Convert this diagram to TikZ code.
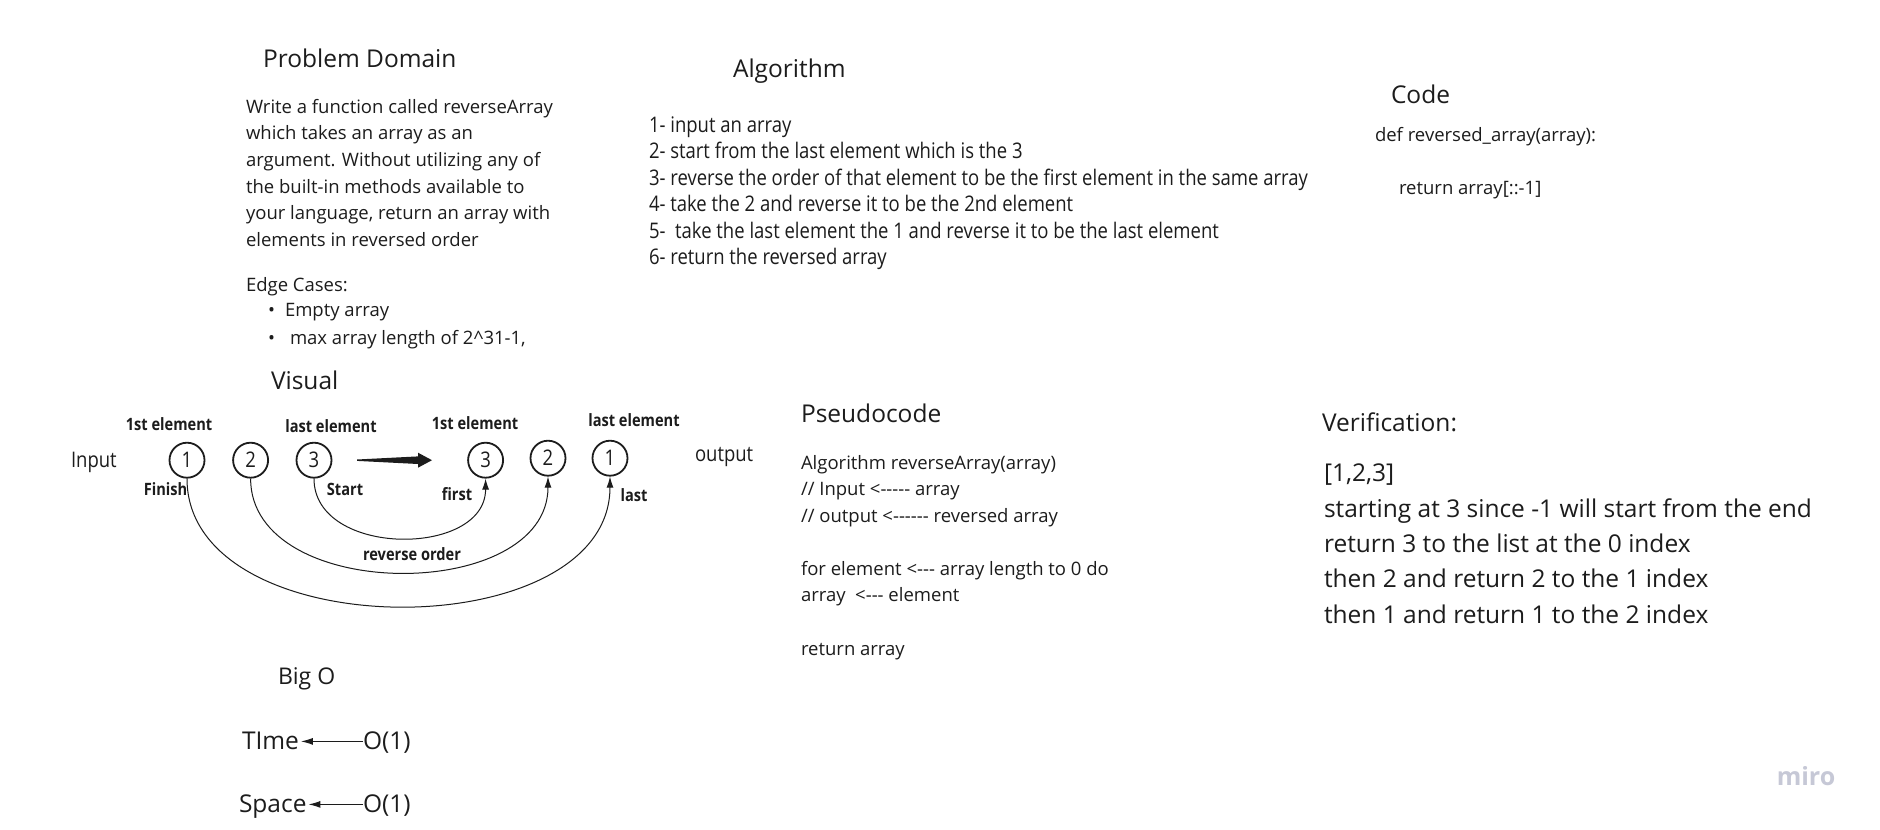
\documentclass[tikz,border=0pt]{standalone}
\usepackage{fontspec}
\setmainfont{Open Sans}
\newfontfamily\condfam[FakeStretch=0.86]{Open Sans}
\usetikzlibrary{arrows.meta}
\definecolor{txt}{RGB}{28,28,28}
\definecolor{miroc}{RGB}{198,200,214}
\newcommand{\ftitle}{\fontsize{24.5}{29}\selectfont}
\newcommand{\fbody}{\fontsize{18.5}{22}\selectfont}
\newcommand{\fcond}{\condfam\fontsize{21.5}{25}\selectfont}
\newcommand{\flab}{\condfam\bfseries\fontsize{17}{20}\selectfont}
\newcommand{\fbig}{\fontsize{24.5}{29}\selectfont}
\tikzset{
  t/.style={inner sep=0pt, outer sep=0pt, text=txt, anchor=base west},
  tc/.style={inner sep=0pt, outer sep=0pt, text=txt, anchor=base},
  title/.style={t, font=\ftitle},
  body/.style={t, font=\fbody},
  cond/.style={t, font=\fcond},
  big/.style={t, font=\fbig},
  lab/.style={tc, font=\flab},
  circ/.style={circle, draw=txt, line width=1.8pt, minimum size=35pt, inner sep=0pt, text=txt, font=\fcond},
  curve/.style={draw=txt, line width=1pt, -{Latex[length=11pt,width=7pt]}},
  boarrow/.style={draw=txt, line width=1pt, -{Latex[length=12pt,width=7pt]}},
}
\begin{document}
\begin{tikzpicture}[x=1pt,y=-1pt]
\useasboundingbox[fill=white] (0,0) rectangle (1880,830);
\begin{scope}[yshift=-2.2pt]
% Problem Domain
\node[title] (pdt) at (263,65) {Problem Domain};
\node[body] (pd1) at (246,111) {Write a function called reverseArray};
\node[body] (pd2) at (246,137.6) {which takes an array as an};
\node[body] (pd3) at (246,164.2) {argument. Without utilizing any of};
\node[body] (pd4) at (246,190.8) {the built-in methods available to};
\node[body] (pd5) at (246,217.4) {your language, return an array with};
\node[body] (pd6) at (246,244) {elements in reversed order};
\node[body] (ec) at (246,289) {Edge Cases:};
\node[body] (eb1) at (268,314) {\textbullet};
\node[body] (ec1) at (285,314) {Empty array};
\node[body] (eb2) at (268,342) {\textbullet};
\node[body] (ec2) at (290,342) {max array length of 2\^{}31-1,};

% Algorithm
\node[title] (alt) at (733,75.5) {Algorithm};
\node[cond] (al1) at (649,130) {1- input an array};
\node[cond] (al2) at (649,156.5) {2- start from the last element which is the 3};
\node[cond] (al3) at (649,183) {3- reverse the order of that element to be the first element in the same array};
\node[cond] (al4) at (649,209.5) {4- take the 2 and reverse it to be the 2nd element};
\node[cond] (al5) at (649,236) {5-\ \ take the last element the 1 and reverse it to be the last element};
\node[cond] (al6) at (649,262.5) {6- return the reversed array};

% Code
\node[title] (cdt) at (1391,101) {Code};
\node[body] (cd1) at (1375,139.5) {def reversed\_array(array):};
\node[body] (cd2) at (1399,192.5) {return array[::-1]};

% Visual
\node[title] (vis) at (271,387.5) {Visual};
\node[lab] (l1) at (169,428) {1st element};
\node[lab] (l2) at (331,430.5) {last element};
\node[lab] (l3) at (475,427) {1st element};
\node[lab] (l4) at (634,424.5) {last element};
\node[cond] (inp) at (71,465.5) {Input};
\node[cond] (outp) at (695,459.5) {output};
\node[circ] (a1) at (187,458) {1};
\node[circ] (a2) at (250.6,458) {2};
\node[circ] (a3) at (314,458) {3};
\node[circ] (b3) at (485.6,458) {3};
\node[circ] (b2) at (548,456) {2};
\node[circ] (b1) at (610,456) {1};
\fill[txt] (357,457.3) -- (418,454.2) -- (418,450.5) -- (432,458) -- (418,465.5) -- (418,461.8) -- (357,458.7) -- cycle;
\draw[curve] (a3.south) .. controls +(0,79) and +(0,79) .. (b3.south);
\draw[curve] (a2.south) .. controls +(0,125) and +(0,127) .. (b2.south);
\draw[curve] (a1.south) .. controls +(0,170) and +(0,172) .. (b1.south);
\node[lab] (fin) at (165.5,493) {Finish};
\node[lab] (sta) at (345,493) {Start};
\node[lab] (fir) at (457,498) {first};
\node[lab] (las) at (634,499) {last};
\node[lab] (rev) at (412,558) {reverse order};

% Pseudocode
\node[title] (pst) at (801,420) {Pseudocode};
\node[body] (ps1) at (801,467) {Algorithm reverseArray(array)};
\node[body] (ps2) at (801,493.5) {// Input <{-}{-}{-}{-}{-} array};
\node[body] (ps3) at (801,520) {// output <{-}{-}{-}{-}{-}{-} reversed array};
\node[body] (ps4) at (801,573) {for element <{-}{-}{-} array length to 0 do};
\node[body] (ps5) at (801,599.5) {array\ \ <{-}{-}{-} element};
\node[body] (ps6) at (801,653) {return array};

% Verification
\node[title] (vft) at (1322,429.5) {Verification:};
\node[big] (v1) at (1324,479.5) {[1,2,3]};
\node[big] (v2) at (1324,515.5) {starting at 3 since -1 will start from the end};
\node[big] (v3) at (1324,550.5) {return 3 to the list at the 0 index};
\node[big] (v4) at (1324,585.5) {then 2 and return 2 to the 1 index};
\node[big] (v5) at (1324,621.5) {then 1 and return 1 to the 2 index};

% Big O
\node[t, font=\fontsize{23}{27}\selectfont] (bo) at (278,682) {Big O};
\node[big] (tm) at (242,747.5) {TIme};
\node[big] (o1) at (363,747.5) {O(1)};
\node[big] (sp) at (239,810.5) {Space};
\node[big] (o2) at (363,810.5) {O(1)};
\draw[boarrow] ([yshift=8.3pt]o1.base west) -- ([xshift=2pt,yshift=8.3pt]tm.base east);
\draw[boarrow] ([yshift=8.3pt]o2.base west) -- ([xshift=2pt,yshift=8.3pt]sp.base east);
\end{scope}
% watermark
\node[inner sep=0pt, anchor=base, text=miroc, font=\bfseries\fontsize{25}{30}\selectfont] (miro) at (1806,785) {miro};
\end{tikzpicture}
\end{document}
